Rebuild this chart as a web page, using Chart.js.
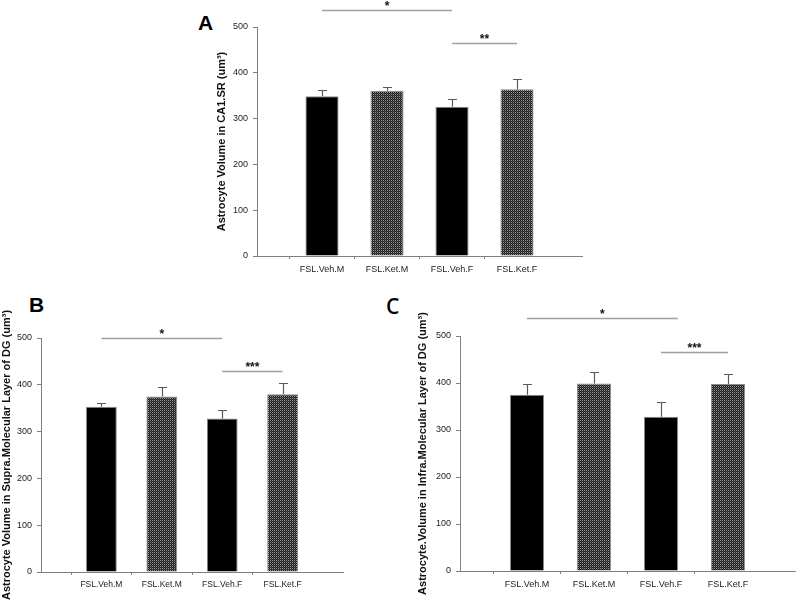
<!DOCTYPE html>
<html>
<head>
<meta charset="utf-8">
<script src="https://cdn.jsdelivr.net/npm/chart.js@4.4.1/dist/chart.umd.min.js"></script>
<style>
  body { margin: 0; background: #fff; width: 800px; height: 603px; position: relative; overflow: hidden; }
  canvas { position: absolute; }
  .panel { position: absolute; font-family: "Liberation Sans", Arial, sans-serif; font-weight: bold; font-size: 21px; line-height: 1; color: #000; }
</style>
</head>
<body>
<div class="panel" style="left:198px;top:12px;">A</div>
<div class="panel" style="left:29px;top:294px;">B</div>
<div class="panel" style="left:386px;top:296px;font-family:'Open Sans',sans-serif;font-weight:600;">C</div>
<canvas id="chartA" width="380" height="292" style="left:215px;top:0px;"></canvas>
<canvas id="chartB" width="360" height="303" style="left:0px;top:300px;"></canvas>
<canvas id="chartC" width="384" height="303" style="left:416px;top:300px;"></canvas>
<script>
const categories = ['FSL.Veh.M', 'FSL.Ket.M', 'FSL.Veh.F', 'FSL.Ket.F'];
const yTicks = [0, 100, 200, 300, 400, 500];

// means and standard errors
const meanA = [349, 361, 326, 364];
const semA = [13, 9, 16, 22];
const meanB = [353, 375, 328, 380];
const semB = [9, 21, 18, 23];
const meanC = [375, 399, 328, 398];
const semC = [23, 24, 31, 22];

// significance brackets: [from category, to category, height, stars]
const sigA = [[0, 2, 537, '*'], [2, 3, 466, '**']];
const sigB = [[0, 2, 500, '*'], [2, 3, 430, '***']];
const sigC = [[0, 2.25, 538, '*'], [2, 3, 467, '***']];

const titleA = 'Astrocyte Volume in CA1.SR (um\u00B3)';
const titleB = 'Astrocyte Volume in Supra.Molecular Layer of DG (um\u00B3)';
const titleC = 'Astrocyte.Volume in Infra.Molecular Layer of DG (um\u00B3)';

const FONT = '"Liberation Sans", Arial, sans-serif';
const AXIS = '#808080';

// fine dotted fill used for the ketamine bars
function dither() {
    const c = document.createElement('canvas');
    c.width = 2; c.height = 2;
    const g = c.getContext('2d');
    g.fillStyle = '#1c1c1c';
    g.fillRect(0, 0, 2, 2);
    g.fillStyle = '#9a9a9a';
    g.fillRect(0, 0, 1, 1);
    g.fillStyle = '#4a4a4a';
    g.fillRect(1, 1, 1, 1);
    return g.createPattern(c, 'repeat');
}
const hatch = dither();

function annotations(means, sems, sig) {
    return {
        id: 'annotations',
        afterDatasetsDraw(chart) {
            const ctx = chart.ctx;
            const x = chart.scales.x, y = chart.scales.y;
            const meta = chart.getDatasetMeta(0);
            ctx.save();
            // error bars (upper half only)
            ctx.strokeStyle = '#5a5a5a';
            ctx.lineWidth = 1.2;
            means.forEach((m, i) => {
                const bar = meta.data[i + 1];
                const cx = Math.round(bar.x) + 0.5;
                const y0 = y.getPixelForValue(m);
                const y1 = Math.round(y.getPixelForValue(m + sems[i])) + 0.5;
                ctx.beginPath();
                ctx.moveTo(cx, y0);
                ctx.lineTo(cx, y1);
                ctx.moveTo(cx - 4.5, y1);
                ctx.lineTo(cx + 4.5, y1);
                ctx.stroke();
            });
            // significance lines with stars
            sig.forEach(([a, b, v, stars]) => {
                const xa = x.getPixelForValue(a + 1);
                const xb = x.getPixelForValue(b + 1);
                const yy = Math.round(y.getPixelForValue(v)) + 0.5;
                ctx.strokeStyle = '#a0a0a0';
                ctx.lineWidth = 1.5;
                ctx.beginPath();
                ctx.moveTo(xa, yy);
                ctx.lineTo(xb, yy);
                ctx.stroke();
                ctx.fillStyle = '#111';
                ctx.font = 'bold 12px ' + FONT;
                ctx.textAlign = 'center';
                ctx.textBaseline = 'middle';
                ctx.fillText(stars, (xa + xb) / 2, yy - 4);
            });
            ctx.restore();
        }
    };
}

function makeChart(id, means, sems, sig, title, box, area, labelSize) {
    const xAxisH = 28;
    const pad = {
        left: 0,
        top: area.top - box.top,
        right: box.left + box.width - area.right,
        bottom: box.top + box.height - area.bottom - xAxisH
    };
    const yWidth = area.left - box.left;
    const ctx = document.getElementById(id).getContext('2d');
    return new Chart(ctx, {
        type: 'bar',
        data: {
            labels: ['', ...categories, ''],
            datasets: [{
                data: [null, ...means, null],
                backgroundColor: (c) => (c.dataIndex % 2 === 1 ? '#000' : hatch),
                borderColor: '#8a8a8a',
                borderWidth: 1,
                barPercentage: 0.51,
                categoryPercentage: 1
            }]
        },
        options: {
            responsive: false,
            animation: false,
            devicePixelRatio: 1,
            layout: { padding: pad },
            plugins: { legend: { display: false }, tooltip: { enabled: false } },
            scales: {
                x: {
                    type: 'category',
                    offset: false,
                    afterFit(scale) { scale.height = xAxisH; },
                    border: { color: AXIS, width: 1 },
                    grid: {
                        drawOnChartArea: false,
                        tickLength: 3,
                        color: (c) => (c.index === 0 || c.index === categories.length + 1 ? 'rgba(0,0,0,0)' : AXIS)
                    },
                    ticks: {
                        autoSkip: false,
                        maxRotation: 0,
                        padding: 5,
                        color: '#222',
                        font: { family: FONT, size: labelSize }
                    }
                },
                y: {
                    min: yTicks[0],
                    max: yTicks[yTicks.length - 1],
                    afterFit(scale) { scale.width = yWidth; },
                    afterBuildTicks(scale) { scale.ticks = yTicks.map(v => ({ value: v })); },
                    border: { color: AXIS, width: 1 },
                    grid: { drawOnChartArea: false, tickLength: 4, color: AXIS },
                    ticks: {
                        padding: 5,
                        color: '#222',
                        font: { family: FONT, size: 9 }
                    },
                    title: {
                        display: true,
                        text: title,
                        color: '#111',
                        padding: 0,
                        font: { family: FONT, size: 11, weight: 'bold' }
                    }
                }
            }
        },
        plugins: [annotations(means, sems, sig)]
    });
}

makeChart('chartA', meanA, semA, sigA, titleA,
    { left: 215, top: 0, width: 380, height: 292 },
    { left: 257, right: 582, top: 27, bottom: 256 }, 9);
makeChart('chartB', meanB, semB, sigB, titleB,
    { left: 0, top: 300, width: 360, height: 303 },
    { left: 41, right: 343, top: 338, bottom: 572 }, 8.5);
makeChart('chartC', meanC, semC, sigC, titleC,
    { left: 416, top: 300, width: 384, height: 303 },
    { left: 460, right: 795, top: 336, bottom: 571 }, 9);
</script>
</body>
</html>
